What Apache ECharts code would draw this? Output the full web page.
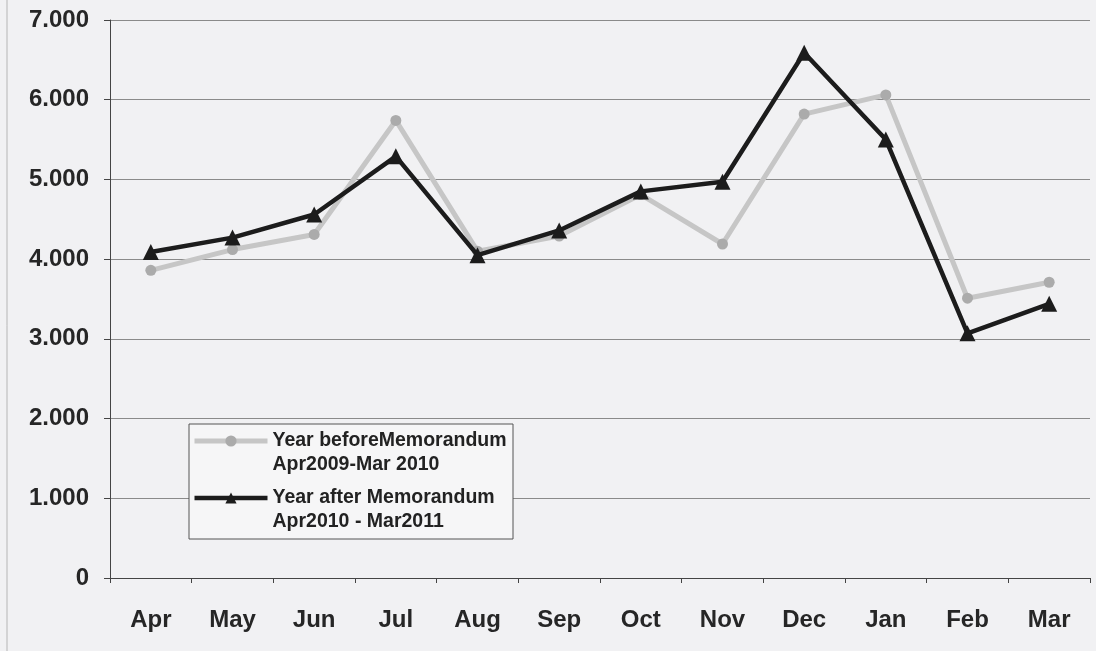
<!DOCTYPE html>
<html>
<head>
<meta charset="utf-8">
<script src="https://cdn.jsdelivr.net/npm/echarts@6/dist/echarts.min.js"></script>
<style>
html,body{margin:0;padding:0;background:#f1f1f3;}
#chart{width:1096px;height:651px;}
</style>
</head>
<body>
<div id="chart"></div>
<script>
const categories = ['Apr','May','Jun','Jul','Aug','Sep','Oct','Nov','Dec','Jan','Feb','Mar'];
const yearBefore = [3860, 4120, 4310, 5740, 4100, 4290, 4810, 4190, 5820, 6060, 3510, 3710];
const yearAfter  = [4090, 4270, 4560, 5290, 4050, 4360, 4850, 4970, 6590, 5500, 3070, 3440];
const yTickLabels = ['0','1.000','2.000','3.000','4.000','5.000','6.000','7.000'];
const seriesNames = ['Year beforeMemorandum\nApr2009-Mar 2010', 'Year after Memorandum\nApr2010 - Mar2011'];

const chart = echarts.init(document.getElementById('chart'), null, {renderer:'canvas'});
const FONT = 'Liberation Sans, Arial, sans-serif';
chart.setOption({
  backgroundColor: '#f1f1f3',
  animation: false,
  grid: {left: 110, right: 6, top: 20, bottom: 73, containLabel: false},
  xAxis: {
    type: 'category',
    data: categories,
    boundaryGap: true,
    axisLine: {lineStyle: {color: '#444', width: 1}},
    axisTick: {show: true, length: 5, lineStyle: {color: '#444'}},
    axisLabel: {fontFamily: FONT, fontWeight: 'bold', fontSize: 24, color: '#262626', margin: 30}
  },
  yAxis: {
    type: 'value',
    min: 0, max: 7000, interval: 1000,
    axisLine: {show: true, lineStyle: {color: '#444', width: 1}},
    axisTick: {show: true, length: 6, lineStyle: {color: '#444'}},
    splitLine: {lineStyle: {color: '#8a8a8a', width: 1}},
    axisLabel: {
      fontFamily: FONT, fontWeight: 'bold', fontSize: 24, color: '#262626', margin: 21,
      formatter: v => yTickLabels[Math.round(v / 1000)]
    }
  },
  legend: {
    orient: 'vertical',
    left: 192, top: 405,
    padding: 0,
    itemWidth: 73, itemHeight: 14,
    itemGap: -15,
    z: 5,
    lineStyle: {width: 'inherit'},
    formatter: name => '\n' + name,
    textStyle: {fontFamily: FONT, fontWeight: 'bold', fontSize: 19.5, lineHeight: 24, color: '#222'},
    data: seriesNames
  },
  graphic: [
    {type: 'rect', z: 3, shape: {x: 189, y: 424, width: 324, height: 115},
     style: {fill: '#f6f6f7', stroke: '#555', lineWidth: 1}},
    {type: 'line', z: 3, shape: {x1: 7, y1: 0, x2: 7, y2: 651},
     style: {stroke: '#b5b5b5', lineWidth: 1}}
  ],
  series: [
    {
      name: seriesNames[0], type: 'line', data: yearBefore,
      symbol: 'circle', symbolSize: 11,
      itemStyle: {color: '#ababab'},
      lineStyle: {color: '#c6c6c6', width: 5},
      z: 2
    },
    {
      name: seriesNames[1], type: 'line', data: yearAfter,
      symbol: 'triangle', symbolSize: 16,
      itemStyle: {color: '#1c1c1c'},
      lineStyle: {color: '#1c1c1c', width: 4.5},
      z: 3
    }
  ]
});
</script>
</body>
</html>
